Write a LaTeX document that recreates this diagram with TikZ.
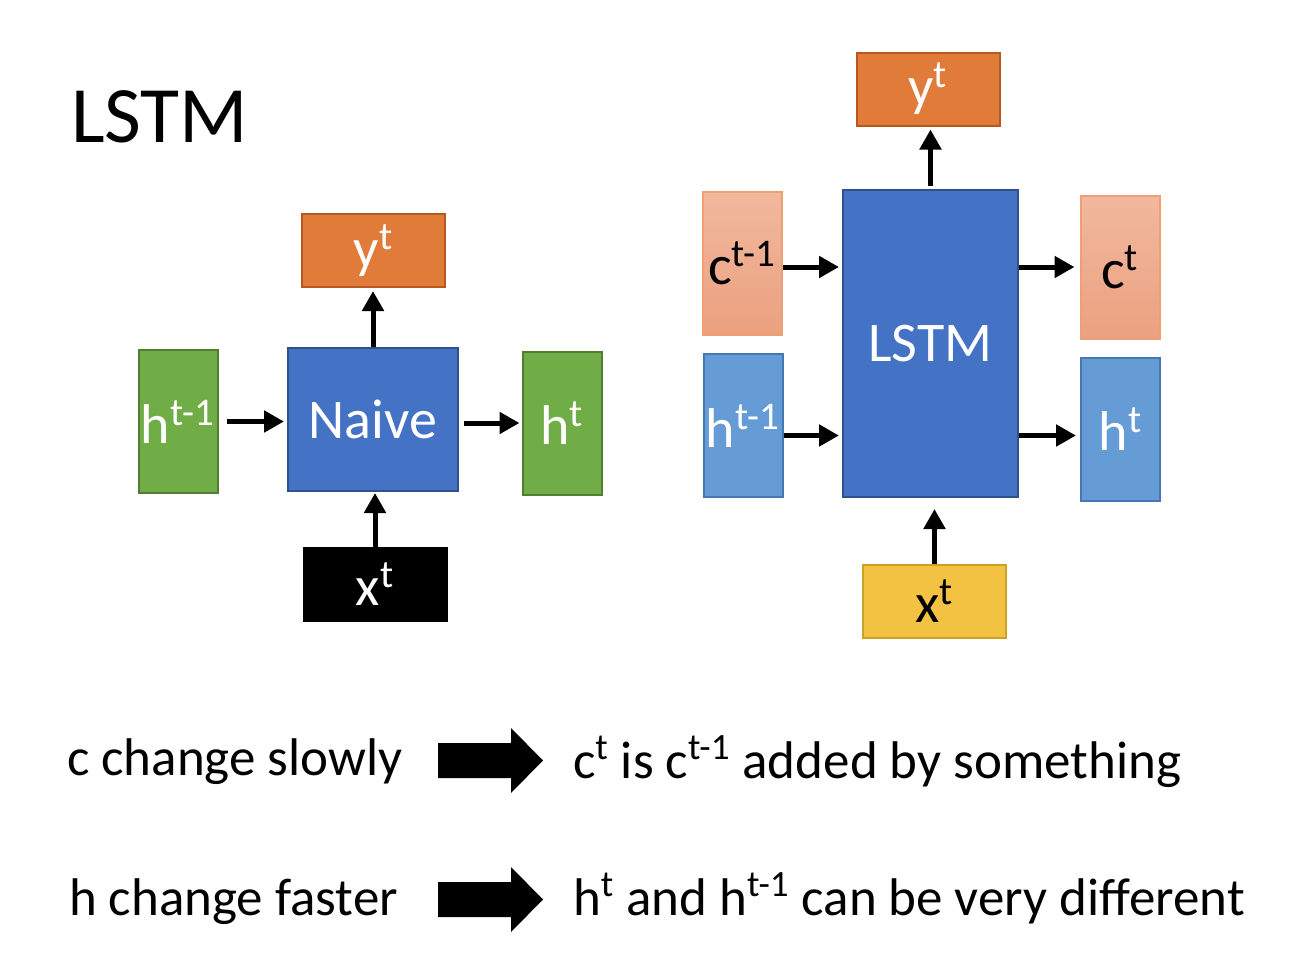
\documentclass[tikz,border=0pt]{standalone}
\usepackage{fontspec}
\setmainfont{Carlito}
\usetikzlibrary{arrows.meta}
\definecolor{outfill}{HTML}{E07B39}
\definecolor{outline}{HTML}{B9581E}
\definecolor{cellfill}{HTML}{4472C4}
\definecolor{cellline}{HTML}{2F528F}
\definecolor{hidfill}{HTML}{70AD47}
\definecolor{hidline}{HTML}{507E32}
\definecolor{memtop}{HTML}{F1B89E}
\definecolor{membot}{HTML}{EBA180}
\definecolor{memline}{HTML}{EE9F74}
\definecolor{hstfill}{HTML}{659CD6}
\definecolor{hstline}{HTML}{4677B0}
\definecolor{infill}{HTML}{F4C243}
\definecolor{inline}{HTML}{C9A227}
\begin{document}
\begin{tikzpicture}[x=0.5pt,y=-0.5pt,>={Triangle[length=10pt,width=10.5pt]},
	box/.style={draw,line width=1pt,inner sep=0pt,font=\fontsize{28}{34}\selectfont},
	tall/.style={box,minimum width=39.5pt,minimum height=71.5pt},
	wide/.style={box,minimum width=71.5pt,minimum height=36.5pt},
	link/.style={->,line width=2.5pt},
	say/.style={anchor=base west,font=\fontsize{26.5}{32}\selectfont}]
	\useasboundingbox (0,0) rectangle (1314,958);
	\node[anchor=base west,font=\fontsize{40}{48}\selectfont] (title) at (64,142) {LSTM};
	% naive cell
	\node[box,fill=cellfill,draw=cellline,text=white,minimum width=85pt,minimum height=71.5pt] (naive) at (373,419.5) {Naive};
	\node[wide,fill=outfill,draw=outline,text=white] (yL) at (373.5,250.5) {y\textsuperscript{t}};
	\node[tall,fill=hidfill,draw=hidline,text=white] (hpL) at (178,421.5) {h\textsuperscript{t-1}};
	\node[tall,fill=hidfill,draw=hidline,text=white] (hL) at (562,423) {h\textsuperscript{t}};
	\node[wide,fill=black,draw=black,text=white] (xL) at (375,584) {x\textsuperscript{t}};
	\draw[link,shorten <=4pt,shorten >=1.5pt] (hpL.east) -- (hpL.east -| naive.west);
	\draw[link,shorten <=2.5pt,shorten >=1pt] (naive.east |- hL.west) -- (hL.west);
	\draw[link,shorten >=1.5pt] (naive.north) -- (naive.north |- yL.south);
	\draw[link,shorten >=0.5pt] (xL.north) -- (xL.north |- naive.south);
	% lstm cell
	\node[box,fill=cellfill,draw=cellline,text=white,minimum width=87.5pt,minimum height=153.5pt] (lstm) at (930.5,343.5) {LSTM};
	\node[wide,fill=outfill,draw=outline,text=white] (yR) at (928,89) {y\textsuperscript{t}};
	\node[tall,top color=memtop,bottom color=membot,draw=memline] (cpR) at (742.5,263) {c\textsuperscript{t-1}};
	\node[tall,fill=hstfill,draw=hstline,text=white] (hpR) at (743,425.5) {h\textsuperscript{t-1}};
	\node[tall,top color=memtop,bottom color=membot,draw=memline] (cR) at (1120,267) {c\textsuperscript{t}};
	\node[tall,fill=hstfill,draw=hstline,text=white] (hR) at (1120.5,429.5) {h\textsuperscript{t}};
	\node[wide,fill=infill,draw=inline] (xR) at (934.5,601) {x\textsuperscript{t}};
	\draw[link,shorten >=1.5pt] ([yshift=-2pt]cpR.east) -- ([yshift=-2pt]cpR.east -| lstm.west);
	\draw[link,shorten >=1.5pt] ([yshift=-5pt]hpR.east) -- ([yshift=-5pt]hpR.east -| lstm.west);
	\draw[link,shorten >=2.5pt] (lstm.east |- cR.west) -- (cR.west);
	\draw[link,shorten >=2pt] ([yshift=-3pt]lstm.east |- hR.west) -- ([yshift=-3pt]hR.west);
	\draw[link,shorten <=1.5pt,shorten >=1.5pt] (lstm.north) -- (lstm.north |- yR.south);
	\draw[link,shorten >=5.5pt] (xR.north) -- (xR.north |- lstm.south);
	% conclusions
	\node[say] (cslow) at (60,775) {c change slowly};
	\node[say] (cadd) at (566,778) {c\textsuperscript{t} is c\textsuperscript{t-1} added by something};
	\node[say] (hfast) at (62,915) {h change faster};
	\node[say] (hdiff) at (566,915) {h\textsuperscript{t} and h\textsuperscript{t-1} can be very different};
	\foreach \y in {760.5,899.5}
		\fill (438,\y-17.5) -- (511,\y-17.5) -- (511,\y-32.5) -- (543,\y) -- (511,\y+32.5) -- (511,\y+17.5) -- (438,\y+17.5) -- cycle;
\end{tikzpicture}
\end{document}
